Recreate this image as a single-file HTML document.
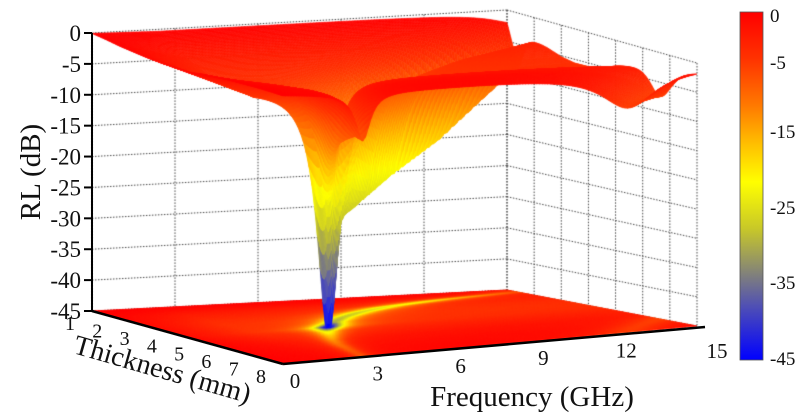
<!DOCTYPE html>
<html><head><meta charset="utf-8"><style>
html,body{margin:0;padding:0;background:#fff;width:800px;height:420px;overflow:hidden}
#wrap{position:relative;width:800px;height:420px}
canvas,svg{position:absolute;left:0;top:0}
text{font-family:"Liberation Serif",serif;fill:#111}
</style></head><body>
<div id="wrap">
<canvas id="cv" width="800" height="420"></canvas>
<svg id="ov" width="800" height="420"></svg>
</div>
<script>
// ---- data ----
const thicknessVals = [1,1.5,2,2.5,3,3.5,4,4.5,5,5.5,6,6.5,7,7.5,8];
const dipFreq1   = [15.5,14.5,11.5,9.2,7.7,6.6,5.8,5.1,4.6,4.2,3.8,3.5,3.3,3.1,2.9];
const dipDepth1  = [2,8,16,20,22,23,25,42,20,15,12,10,9,8,8];
const dipFreq2   = [40,40,40,40,33,28.6,25,22.2,20,18.2,16.7,15.4,14.3,13.3,12.5];
const dipDepth2  = [0,0,0,0,0,0,0,2,3,4,5,6,6,6,6];
const baseRL     = [-0.3,-1.5,-3,-4,-5,-5.5,-5.5,-5,-4,-3,-2,-1.5,-1,-0.8,-0.8];
const zTicks = [0,-5,-10,-15,-20,-25,-30,-35,-40,-45];
const tTicks = [1,2,3,4,5,6,7,8];
const fTicks = [0,3,6,9,12,15];
const cbLabels = ['0','-5','-15','-25','-35','-45'];

// ---- geometry ----
const BL=[92,311], FL=[283,364], BR=[507,290], FR=[697,326];
const HBL=278,HBR=280,HFL=270,HFR=263;
const tMin=1,tMax=8,fMax=15,zMin=-45;
function bil(a,b,c,d,tn,fn){return a*(1-tn)*(1-fn)+c*tn*(1-fn)+b*(1-tn)*fn+d*tn*fn;}
function P(t,f,z){
  const tn=(t-tMin)/(tMax-tMin), fn=f/fMax;
  const x=bil(BL[0],BR[0],FL[0],FR[0],tn,fn);
  const y0=bil(BL[1],BR[1],FL[1],FR[1],tn,fn);
  const h=bil(HBL,HBR,HFL,HFR,tn,fn);
  return [x, y0 - h*(z-zMin)/(-zMin)];
}
function interp(arr,t){
  const i=Math.min(thicknessVals.length-2,Math.max(0,Math.floor((t-1)/0.5)));
  const u=(t-thicknessVals[i])/(thicknessVals[i+1]-thicknessVals[i]);
  return arr[i]*(1-u)+arr[i+1]*u;
}
function RL(t,f){
  const f1=interp(dipFreq1,t), d1=interp(dipDepth1,t), f2=interp(dipFreq2,t), d2=interp(dipDepth2,t);
  const w1=0.07*f1+0.12, w2=0.07*f2+0.3;
  let v=interp(baseRL,t)*Math.min(1,f/3+0.2) - d1/(1+((f-f1)/w1)**2) - d2/(1+((f-f2)/w2)**2);
  return Math.max(-45,Math.min(0,v));
}
const stops=[[0,[255,0,0]],[-6,[255,50,0]],[-12,[255,120,0]],[-17,[255,190,0]],[-22,[255,255,0]],[-28,[200,200,40]],[-33,[140,140,110]],[-38,[80,80,180]],[-45,[0,0,255]]];
function col(v){
  for(let i=0;i<stops.length-1;i++){const a=stops[i],b=stops[i+1];
    if(v<=a[0]&&v>=b[0]){const u=(a[0]-v)/(a[0]-b[0]);
      return 'rgb('+a[1].map((c,k)=>Math.round(c+(b[1][k]-c)*u)).join(',')+')';}}
  return 'rgb(0,0,255)';
}
const cv=document.getElementById('cv'),ctx=cv.getContext('2d');
ctx.strokeStyle='#444';ctx.lineWidth=1;ctx.setLineDash([1.5,1.5]);
function line(a,b){ctx.beginPath();ctx.moveTo(a[0],a[1]);ctx.lineTo(b[0],b[1]);ctx.stroke();}
zTicks.forEach(z=>{line(P(1,0,z),P(1,15,z));line(P(1,15,z),P(8,15,z));});
for(let f=0;f<=15;f+=3) line(P(1,f,0),P(1,f,-45));
for(let t=1;t<=8;t++) line(P(t,15,0),P(t,15,-45));
ctx.setLineDash([]);
const dt=0.05,df=0.1,quads=[];
for(let t=1;t<8-1e-9;t+=dt)for(let f=0;f<15-1e-9;f+=df){
  const v=RL(t+dt/2,f+df/2);
  quads.push([t,f,v,P(t,f,0)[1]]);
}
quads.forEach(q=>{const [t,f,v]=q;const c=col(v);
  const pts=[P(t,f,-45),P(t+dt,f,-45),P(t+dt,f+df,-45),P(t,f+df,-45)];
  ctx.fillStyle=c;ctx.strokeStyle=c;ctx.lineWidth=0.6;ctx.beginPath();pts.forEach((p,i)=>i?ctx.lineTo(p[0],p[1]):ctx.moveTo(p[0],p[1]));ctx.closePath();ctx.fill();ctx.stroke();});
quads.sort((a,b)=>a[3]-b[3]);
quads.forEach(q=>{const [t,f]=q;
  const z=[RL(t,f),RL(t+dt,f),RL(t+dt,f+df),RL(t,f+df)];
  const v=(z[0]+z[1]+z[2]+z[3])/4;const c=col(v);
  const pts=[P(t,f,z[0]),P(t+dt,f,z[1]),P(t+dt,f+df,z[2]),P(t,f+df,z[3])];
  ctx.fillStyle=c;ctx.strokeStyle=c;ctx.lineWidth=0.6;ctx.beginPath();pts.forEach((p,i)=>i?ctx.lineTo(p[0],p[1]):ctx.moveTo(p[0],p[1]));ctx.closePath();ctx.fill();ctx.stroke();});

const ns='http://www.w3.org/2000/svg',svg=document.getElementById('ov');
function mk(tag,attrs,txt){const e=document.createElementNS(ns,tag);for(const k in attrs)e.setAttribute(k,attrs[k]);if(txt!==undefined)e.textContent=txt;svg.appendChild(e);return e;}
let e;
e=mk('line',{x1:P(1,0,0)[0],y1:P(1,0,0)[1],x2:P(1,0,-45)[0],y2:P(1,0,-45)[1],stroke:'#000','stroke-width':2});


zTicks.forEach(z=>{const p=P(1,0,z);
  e=mk('line',{x1:p[0]-8,y1:p[1],x2:p[0],y2:p[1],stroke:'#000','stroke-width':2});
  
  
  e=mk('text',{x:p[0]-11,y:p[1]+8,'text-anchor':'end','font-size':23},String(z));
  
  
});
e=mk('line',{x1:BL[0],y1:BL[1],x2:FL[0],y2:FL[1],stroke:'#000','stroke-width':2.5});


tTicks.forEach(t=>{const p=P(t,0,-45);
  e=mk('text',{x:p[0]-22,y:p[1]+19,'text-anchor':'middle','font-size':20},String(t));
  
  
});
e=mk('line',{x1:FL[0],y1:FL[1],x2:FR[0]+8,y2:FR[1]+1,stroke:'#000','stroke-width':2.5});


fTicks.forEach(f=>{const p=P(8,f,-45);
  e=mk('text',{x:p[0]+(f===15?20:12),y:p[1]+(f===15?32:24),'text-anchor':'middle','font-size':21},String(f));
  
  
});
e=mk('text',{x:0,y:0,'font-size':29,'text-anchor':'middle',transform:'translate(40,172) rotate(-90)'},'RL (dB)');


e=mk('text',{x:0,y:0,'font-size':28,'text-anchor':'middle',transform:'translate(160,378) rotate(16)'},'Thickness (mm)');


e=mk('text',{x:532,y:406,'font-size':29,'text-anchor':'middle'},'Frequency (GHz)');


const defs=mk('defs',{});const g=document.createElementNS(ns,'linearGradient');
g.setAttribute('id','cbg');g.setAttribute('x1','0');g.setAttribute('y1','0');g.setAttribute('x2','0');g.setAttribute('y2','1');
stops.forEach(s=>{const st=document.createElementNS(ns,'stop');st.setAttribute('offset',(s[0]/-45));st.setAttribute('stop-color','rgb('+s[1].join(',')+')');g.appendChild(st);});
defs.appendChild(g);
e=mk('rect',{x:740,y:12,width:23,height:348,fill:'url(#cbg)',stroke:'#555','stroke-width':0.8});


const cbY=[15,62,131,207,282,358];
cbLabels.forEach((l,i)=>{
  e=mk('text',{x:770,y:cbY[i]+7,'font-size':19},l);
  
  
});
</script>
</body></html>
